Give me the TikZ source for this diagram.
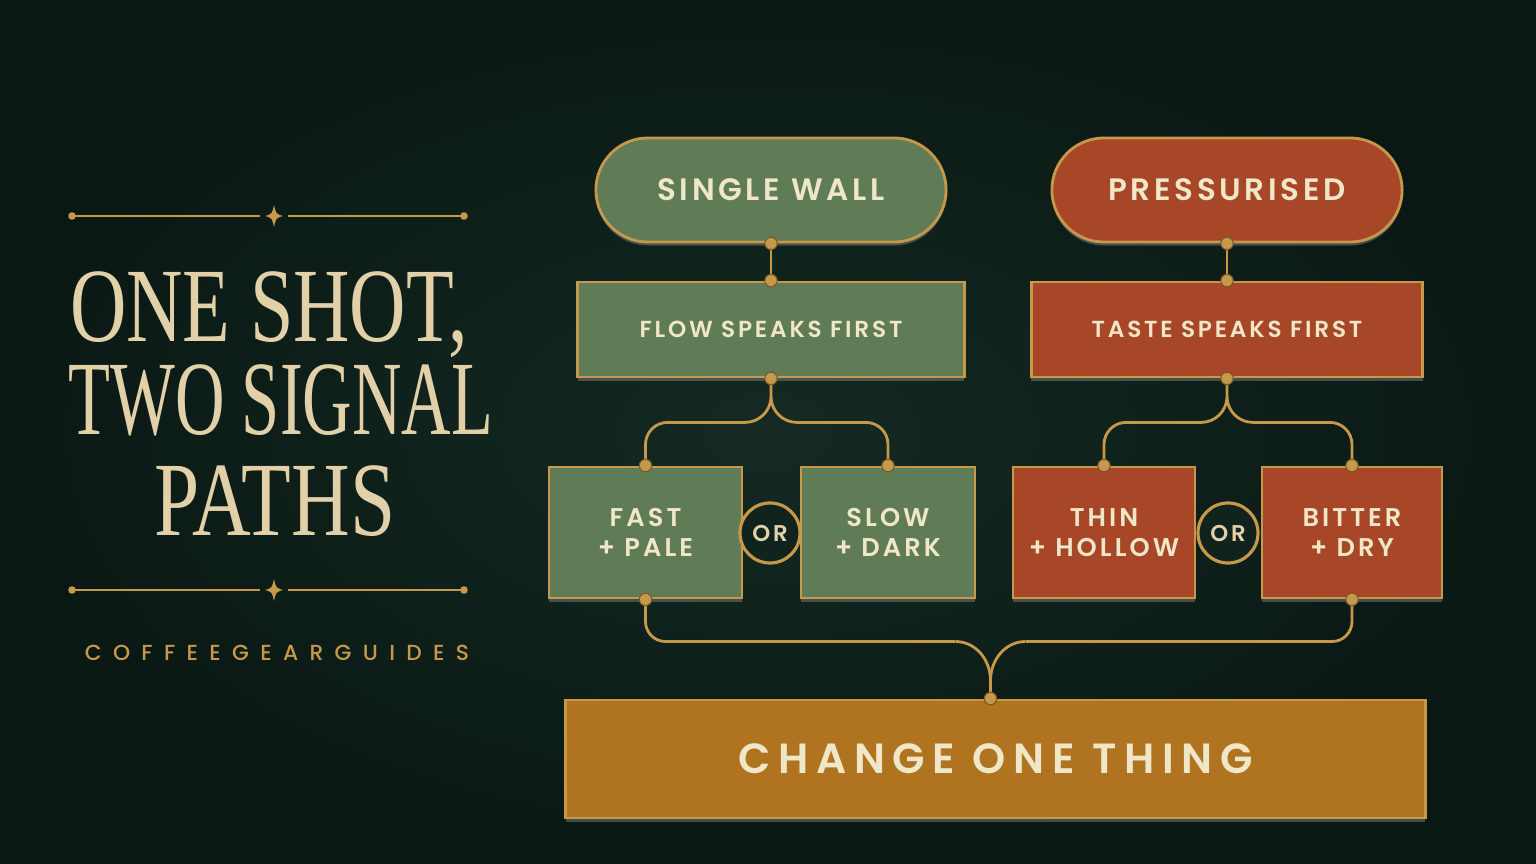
\documentclass[tikz,border=0pt]{standalone}
\usepackage{fontspec}
\setmainfont{Liberation Serif}
\newfontfamily\boxfont[LetterSpace=12]{Poppins SemiBold}
\newfontfamily\brandfont[LetterSpace=52]{Poppins Medium}
\usetikzlibrary{shadows}

\definecolor{bgdark}{RGB}{16,35,29}
\definecolor{bgmid}{RGB}{20,42,35}
\definecolor{bgedge}{RGB}{10,24,20}
\definecolor{sage}{RGB}{96,124,86}
\definecolor{rust}{RGB}{168,70,40}
\definecolor{ochre}{RGB}{176,116,32}
\definecolor{goldline}{RGB}{198,152,74}
\definecolor{golddark}{RGB}{120,88,40}
\definecolor{cream}{RGB}{240,230,200}
\definecolor{titlecol}{RGB}{226,208,168}

\tikzset{
  card/.style={draw=goldline, line width=0.8pt, text=cream, align=center, inner sep=0pt,
    drop shadow={opacity=0.5, shadow xshift=0pt, shadow yshift=-1pt}},
  pill/.style={card, rounded corners=0.52cm, minimum width=3.5cm, minimum height=1.04cm,
    font=\boxfont\fontsize{8.8}{10}\selectfont},
  bar/.style={card, minimum height=0.95cm, font=\boxfont\fontsize{6.6}{8}\selectfont},
  choice/.style={card, minimum height=1.31cm, font=\boxfont\fontsize{7.3}{8.6}\selectfont},
  orbadge/.style={circle, draw=goldline, line width=0.9pt, fill=bgdark, minimum size=0.6cm,
    inner sep=0pt, text=titlecol, font=\boxfont\fontsize{6.5}{7}\selectfont},
  wire/.style={draw=goldline, line width=0.8pt},
  title/.style={text=titlecol, align=center, font=\fontsize{30}{26.5}\selectfont}
}

\begin{document}
\begin{tikzpicture}[x=0.01cm, y=-0.01cm]
%Background, fixes the size of the page
\shade[inner color=bgmid, outer color=bgedge] (0,0) rectangle (1536,864);
\useasboundingbox (0,0) rectangle (1536,864);

%Ornament lines above and below the title
\foreach \y in {216,590}{
  \draw[wire] (72,\y) -- (260,\y);
  \draw[wire] (288,\y) -- (464,\y);
  \fill[goldline] (72,\y) circle (0.038cm) (464,\y) circle (0.038cm);
  \fill[goldline] (274,\y-11) .. controls (276,\y-2) .. (283,\y) .. controls (276,\y+2) .. (274,\y+11)
    .. controls (272,\y+2) .. (265,\y) .. controls (272,\y-2) .. (274,\y-11) -- cycle;
}

%Title
\node[title, anchor=base] (title) at (275,536) {\scalebox{0.74}[1]{ONE SHOT,}\hspace*{0.12cm}\\
  \hspace*{0.12cm}\scalebox{0.65}[1]{TWO SIGNAL}\\[0.08cm]
  \scalebox{0.77}[1]{PATHS}};
\node[text=goldline, font=\brandfont\fontsize{6.2}{7}\selectfont] (brand) at (277,653) {COFFEEGEARGUIDES};

%Left path
\node[pill, fill=sage] (single) at (771,190) {SINGLE WALL};
\node[bar, fill=sage, minimum width=3.86cm] (flow) at (771,329.5) {FLOW SPEAKS FIRST};
\node[choice, fill=sage, minimum width=1.93cm] (fast) at (645.5,532.5) {FAST\\+ PALE};
\node[choice, fill=sage, minimum width=1.74cm] (slow) at (888,532.5) {SLOW\\+ DARK};
\node[orbadge] (orl) at (770,533) {OR};

%Right path
\node[pill, fill=rust] (press) at (1227,190) {PRESSURISED};
\node[bar, fill=rust, minimum width=3.91cm] (taste) at (1227,329.5) {TASTE SPEAKS FIRST};
\node[choice, fill=rust, minimum width=1.82cm] (thin) at (1104,532.5) {THIN\\+ HOLLOW};
\node[choice, fill=rust, minimum width=1.80cm] (bitter) at (1352,532.5) {BITTER\\+ DRY};
\node[orbadge] (orr) at (1228,533) {OR};

%Common step
\node[bar, fill=ochre, minimum width=8.59cm, minimum height=1.18cm,
  font=\boxfont\addfontfeature{LetterSpace=18}\fontsize{12}{14}\selectfont] (change) at (995.5,759) {CHANGE ONE THING};

%Connectors
\draw[wire] (single.south) -- (flow.north);
\draw[wire] (press.south) -- (taste.north);

\draw[wire] (flow.south) -- ++(0,18) coordinate (fm)
  to[out=-90,in=0] ++(-26,26) coordinate (fl)
  (fm) to[out=-90,in=180] ++(26,26) coordinate (fr);
\draw[wire, rounded corners=0.22cm] (fl) -| (fast.north);
\draw[wire, rounded corners=0.22cm] (fr) -| (slow.north);

\draw[wire] (taste.south) -- ++(0,18) coordinate (tm)
  to[out=-90,in=0] ++(-26,26) coordinate (tl)
  (tm) to[out=-90,in=180] ++(26,26) coordinate (tr);
\draw[wire, rounded corners=0.22cm] (tl) -| (thin.north);
\draw[wire, rounded corners=0.22cm] (tr) -| (bitter.north);

\coordinate (mj) at ([xshift=-0.05cm]change.north);
\coordinate (ml) at ([xshift=-0.35cm, yshift=0.57cm]mj);
\coordinate (mr) at ([xshift=0.35cm, yshift=0.57cm]mj);
\draw[wire, rounded corners=0.2cm] (fast.south) |- (ml);
\draw[wire, rounded corners=0.2cm] (bitter.south) |- (mr);
\draw[wire] (ml) to[out=0,in=90] ([yshift=0.18cm]mj) -- (mj);
\draw[wire] (mr) to[out=180,in=90] ([yshift=0.18cm]mj);

%Joint dots
\foreach \p in {single.south, flow.north, flow.south, fast.north, slow.north, fast.south,
  press.south, taste.north, taste.south, thin.north, bitter.north, bitter.south, mj}
  \filldraw[fill=goldline, draw=golddark, line width=0.3pt] (\p) circle (0.062cm);
\end{tikzpicture}
\end{document}
